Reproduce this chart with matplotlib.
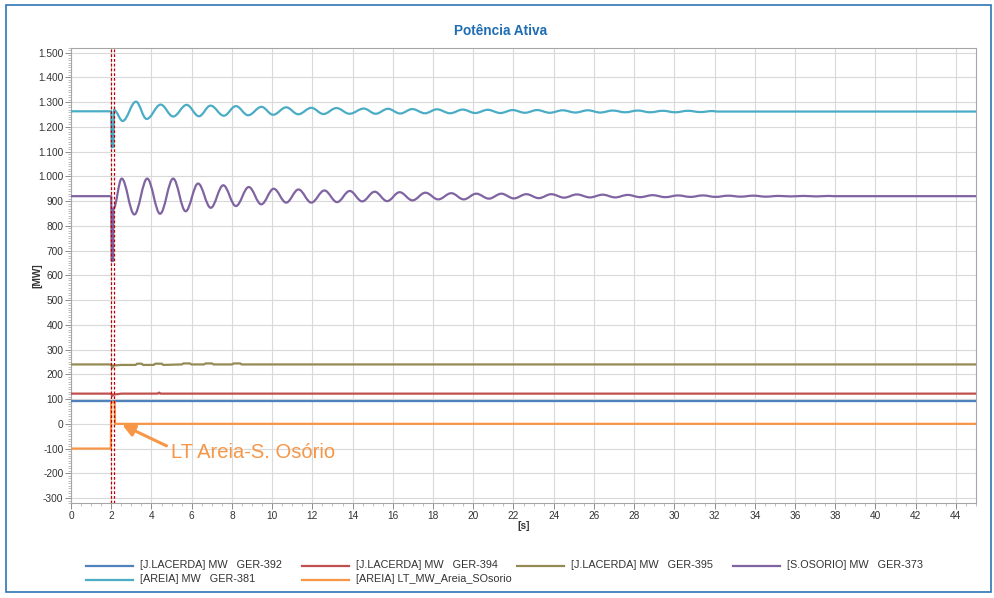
import matplotlib
matplotlib.use("Agg")
import matplotlib.pyplot as plt
from matplotlib.path import Path
from matplotlib.patches import PathPatch, Rectangle
from matplotlib.lines import Line2D
from matplotlib.ticker import MultipleLocator, FuncFormatter

plt.rcParams['font.family'] = ['Liberation Sans', 'DejaVu Sans']

# ---- series: (time [s], active power [MW]) at turning points of each trace ----
areia_381_t = [0, 2.00, 2.02, 2.10, 2.14, 2.57, 3.23, 3.76, 4.46, 5.08, 5.75, 6.36, 6.94, 7.60,
               8.20, 8.81, 9.47, 10.05, 10.70, 11.30, 11.95, 12.55, 13.20, 13.85, 14.56, 15.15,
               15.76, 16.37, 16.97, 17.60, 18.20, 18.85, 19.48, 20.10, 20.72, 21.35, 21.96, 22.57,
               23.18, 23.80, 24.45, 25.08, 25.70, 26.32, 26.94, 27.56, 28.18, 28.80, 29.42, 30.05,
               30.67, 31.30, 31.90, 32.10, 45.0]
areia_381_mw = [1263, 1263, 1118, 1118, 1268, 1224, 1302, 1232, 1290, 1242, 1289, 1243, 1286, 1245,
                1284, 1247, 1281, 1249, 1279, 1251, 1277, 1252, 1276, 1253, 1274, 1253,
                1273, 1254, 1272, 1255, 1271, 1255, 1270, 1256, 1269, 1256, 1268, 1257,
                1268, 1257, 1267, 1258, 1267, 1258, 1266, 1259, 1266, 1259, 1265, 1259,
                1265, 1260, 1264, 1262, 1262]

sosorio_373_t = [0, 2.00, 2.02, 2.09, 2.11, 2.52, 3.15, 3.79, 4.43, 5.08, 5.70, 6.32, 6.95, 7.57,
                 8.20, 8.84, 9.46, 10.08, 10.70, 11.31, 11.95, 12.60, 13.23, 13.86, 14.48, 15.10,
                 15.72, 16.34, 16.98, 17.62, 18.26, 18.91, 19.53, 20.15, 20.78, 21.40, 22.02, 22.64,
                 23.26, 23.88, 24.52, 25.15, 25.80, 26.44, 27.06, 27.68, 28.30, 28.92, 29.55, 30.18,
                 30.80, 31.42, 32.05, 32.68, 33.30, 33.93, 34.55, 35.18, 35.80, 36.43, 37.05, 37.68,
                 37.90, 45.0]
sosorio_373_mw = [920, 920, 658, 658, 870, 991, 846, 991, 849, 991, 859, 971, 873, 964,
                  880, 957, 887, 950, 894, 947, 894, 943, 896, 941, 899, 938,
                  900, 936, 903, 934, 907, 932, 907, 930, 910, 930, 911, 928,
                  912, 928, 914, 927, 915, 926, 915, 925, 916, 924, 916, 923,
                  917, 923, 917, 922, 918, 922, 918, 921, 919, 921, 919, 921,
                  920, 920]

jlacerda_395_t = [0, 2.00, 2.05, 2.12, 2.50, 3.20, 3.30, 3.50, 3.60, 4.10, 4.20, 4.50, 4.60, 5.50,
                  5.60, 5.90, 6.00, 6.60, 6.70, 7.00, 7.10, 8.00, 8.10, 8.40, 8.50, 45.0]
jlacerda_395_mw = [240, 240, 226, 236, 238, 238, 243, 243, 238, 238, 243, 243, 238, 240,
                   244, 244, 240, 240, 244, 244, 240, 240, 244, 244, 240, 240]

jlacerda_394_t = [0, 2.00, 2.05, 2.10, 2.30, 2.50, 4.30, 4.38, 4.45, 45.0]
jlacerda_394_mw = [122, 122, 113, 118, 120, 122, 122, 126, 122, 122]

jlacerda_392_t = [0, 2.00, 2.06, 2.12, 45.0]
jlacerda_392_mw = [92, 92, 90, 92, 92]

lt_areia_t = [0, 1.98, 2.00, 2.17, 2.19, 45.0]
lt_areia_mw = [-100, -100, 88, 88, 0, 0]

series = [
    ("[J.LACERDA] MW   GER-392", jlacerda_392_t, jlacerda_392_mw, "#4f81bd"),
    ("[J.LACERDA] MW   GER-394", jlacerda_394_t, jlacerda_394_mw, "#c0504d"),
    ("[J.LACERDA] MW   GER-395", jlacerda_395_t, jlacerda_395_mw, "#948a54"),
    ("[S.OSORIO] MW   GER-373", sosorio_373_t, sosorio_373_mw, "#8064a2"),
    ("[AREIA] MW   GER-381", areia_381_t, areia_381_mw, "#4bacc6"),
    ("[AREIA] LT_MW_Areia_SOsorio", lt_areia_t, lt_areia_mw, "#f79646"),
]

event_times = [2.00, 2.15]

x_ticks = list(range(0, 46, 2))
y_ticks = list(range(-300, 1501, 100))


def smooth_trace(ts, vs, k=0.3642):
    """Cubic Bezier path through turning points with flat tangents at each point."""
    verts = [(ts[0], vs[0])]
    codes = [Path.MOVETO]
    for t0, v0, t1, v1 in zip(ts[:-1], vs[:-1], ts[1:], vs[1:]):
        dt = t1 - t0
        verts += [(t0 + k * dt, v0), (t1 - k * dt, v1), (t1, v1)]
        codes += [Path.CURVE4] * 3
    return Path(verts, codes)


W, H = 995, 598
fig = plt.figure(figsize=(W / 100, H / 100), dpi=100)
fig.patch.set_facecolor("white")

# outer frame
fig.add_artist(Rectangle((6 / W, 1 - 592 / H), (991 - 6) / W, (592 - 5) / H,
                         transform=fig.transFigure, fill=False,
                         edgecolor="#2e75b6", lw=1.2))

ax = fig.add_axes([71 / W, 1 - 503 / H, (976 - 71) / W, (503 - 47.7) / H])
ax.set_xlim(0, 45)
ax.set_ylim(-320, 1520)

for label, ts, vs, color in series:
    ax.add_patch(PathPatch(smooth_trace(ts, vs), facecolor="none", edgecolor=color,
                           lw=1.6, joinstyle="round", capstyle="round", zorder=3))

for t in event_times:
    ax.axvline(t, color="#c00000", lw=0.9, ls=(0, (2.2, 1.6)), zorder=4)

ax.set_xticks(x_ticks)
ax.set_yticks(y_ticks)
ax.xaxis.set_minor_locator(MultipleLocator(0.5))
ax.yaxis.set_minor_locator(MultipleLocator(10))
ax.yaxis.set_major_formatter(FuncFormatter(lambda v, p: f"{int(round(v)):,}".replace(",", ".")))
ax.grid(True, which="major", color="#d9d9d9", lw=0.8, zorder=0)
ax.set_axisbelow(True)
ax.tick_params(which="major", direction="out", length=4, width=0.7, color="#8c8c8c",
               labelsize=7.3, labelcolor="#333333", pad=1.5)
ax.tick_params(which="minor", direction="out", length=2, width=0.5, color="#a6a6a6")
for sp in ax.spines.values():
    sp.set_color("#a6a6a6")
    sp.set_linewidth(0.8)

ax.set_xlabel("[s]", fontsize=7.3, fontweight="bold", color="#333333", labelpad=0)
ax.set_ylabel("[MW]", fontsize=7.3, fontweight="bold", color="#333333", labelpad=-3)

fig.text(501 / W, 1 - 31 / H, "Potência Ativa", ha="center", va="center",
         fontsize=9.8, fontweight="bold", color="#1f6db3")

ax.annotate("LT Areia-S. Osório", xy=(2.55, -4), xytext=(4.95, -116),
            fontsize=14.5, color="#f79646", ha="left", va="center",
            arrowprops=dict(arrowstyle="-|>", color="#f79646", lw=2.2,
                            mutation_scale=18, shrinkA=1, shrinkB=0,
                            relpos=(0.0, 0.75)),
            zorder=5)

# legend: 4 columns x 2 rows
col_x = [86, 302, 517, 733]
row_y = [565.5, 579.5]
slots = [(0, 0), (1, 0), (2, 0), (3, 0), (0, 1), (1, 1)]
for (label, ts, vs, color), (c, r) in zip(series, slots):
    x0 = col_x[c]
    y = 1 - row_y[r] / H
    fig.add_artist(Line2D([x0 / W, (x0 + 47) / W], [y, y], transform=fig.transFigure,
                          color=color, lw=1.6))
    fig.text((x0 + 54) / W, y, label, ha="left", va="center", fontsize=7.8,
             color="#333333")

fig.savefig("out.png", dpi=100)
